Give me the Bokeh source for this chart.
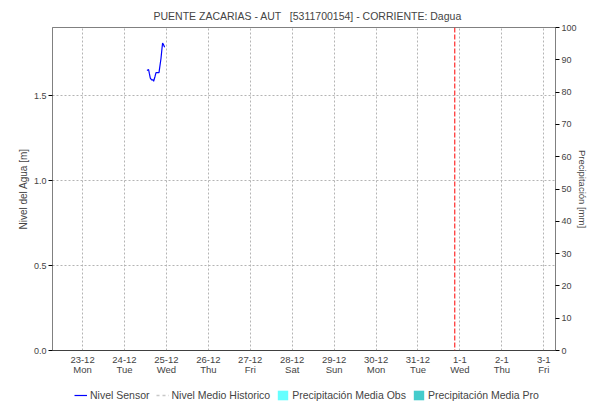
import pandas as pd
from bokeh.plotting import figure
from bokeh.layouts import column
from bokeh.models import (Range1d, LinearAxis, FixedTicker, Span, Legend, LegendItem,
                          Grid, PrintfTickFormatter)
from bokeh.embed import file_html
from bokeh.resources import INLINE

NB = "\u00a0"
title_text = "PUENTE ZACARIAS - AUT " + NB + " [5311700154] - CORRIENTE: Dagua"

sensor_times = ["2024-12-24 12:53", "2024-12-24 13:48", "2024-12-24 14:12", "2024-12-24 14:47",
                "2024-12-24 15:31", "2024-12-24 16:19", "2024-12-24 16:41", "2024-12-24 17:29",
                "2024-12-24 18:03", "2024-12-24 19:46", "2024-12-24 20:07", "2024-12-24 20:55",
                "2024-12-24 21:29", "2024-12-24 21:49", "2024-12-24 22:23", "2024-12-24 22:58"]
sensor_levels = [1.647, 1.653, 1.631, 1.602, 1.592, 1.592, 1.584, 1.612,
                 1.635, 1.635, 1.661, 1.719, 1.778, 1.808, 1.798, 1.784]

tick_dates = ["2024-12-23", "2024-12-24", "2024-12-25", "2024-12-26", "2024-12-27", "2024-12-28",
              "2024-12-29", "2024-12-30", "2024-12-31", "2025-01-01", "2025-01-02", "2025-01-03"]
tick_days = ["Mon", "Tue", "Wed", "Thu", "Fri", "Sat", "Sun", "Mon", "Tue", "Wed", "Thu", "Fri"]

x_start = "2024-12-22 06:48"
x_end = "2025-01-03 06:43"
now_time = "2024-12-31 21:04"

level_ticks = [0.0, 0.5, 1.0, 1.5]
level_max = 1.9
precip_ticks = [0, 10, 20, 30, 40, 50, 60, 70, 80, 90, 100]
precip_max = 100

legend_labels = ["Nivel Sensor", "Nivel Medio Historico", "Precipitación Media Obs",
                 "Precipitación Media Pro"]

FONT = "Liberation Sans"
NAN = float("nan")


def ms(s):
    return int(pd.Timestamp(s).value // 10**6)


tick_ms = [ms(d) for d in tick_dates]
overrides = {}
for d, dn in zip(tick_dates, tick_days):
    ts = pd.Timestamp(d)
    overrides[ms(d)] = f"{ts.day}-{ts.month}\n{dn}"

p = figure(width=593, height=383, x_range=Range1d(ms(x_start), ms(x_end)),
           y_range=Range1d(0, level_max), x_axis_type=None, y_axis_type=None,
           output_backend="svg", toolbar_location=None,
           min_border_left=52, min_border_right=38, min_border_top=27, min_border_bottom=33)
p.extra_y_ranges = {"precip": Range1d(0, precip_max)}
p.outline_line_color = "#808080"
p.background_fill_color = "white"
p.border_fill_color = "white"

p.title.text = title_text
p.title.align = "left"
p.title.offset = 101
p.title.text_font = FONT
p.title.text_font_size = "10.5px"
p.title.text_font_style = "normal"
p.title.standoff = 12

# x axis
xaxis = LinearAxis(ticker=FixedTicker(ticks=tick_ms), major_label_overrides=overrides)
xaxis.axis_line_color = "black"
xaxis.axis_line_dash = "1 1"
xaxis.major_tick_line_color = None
xaxis.minor_tick_line_color = None
xaxis.major_label_standoff = -3
xaxis.major_label_text_font = FONT
xaxis.major_label_text_font_size = "9.5px"
xaxis.major_label_text_line_height = 0.92
p.add_layout(xaxis, "below")

# left axis
yaxis = LinearAxis(ticker=FixedTicker(ticks=level_ticks), formatter=PrintfTickFormatter(format="%.1f"),
                   axis_label="Nivel del Agua [m]")
yaxis.axis_line_color = "#808080"
yaxis.major_tick_line_color = "black"
yaxis.major_tick_in = 0
yaxis.major_tick_out = 4
yaxis.minor_tick_line_color = None
yaxis.major_label_standoff = 2
yaxis.major_label_text_font = FONT
yaxis.major_label_text_font_size = "9px"
yaxis.axis_label_text_font = FONT
yaxis.axis_label_text_font_size = "10px"
yaxis.axis_label_text_font_style = "normal"
yaxis.axis_label_standoff = 2
p.add_layout(yaxis, "left")

# right axis
raxis = LinearAxis(y_range_name="precip", ticker=FixedTicker(ticks=precip_ticks),
                   axis_label="Precipitación [mm]")
raxis.axis_line_color = "#808080"
raxis.major_tick_line_color = "black"
raxis.major_tick_in = 0
raxis.major_tick_out = 4
raxis.minor_tick_line_color = None
raxis.major_label_standoff = 2
raxis.major_label_text_font = FONT
raxis.major_label_text_font_size = "9px"
raxis.axis_label_text_font = FONT
raxis.axis_label_text_font_size = "9.5px"
raxis.axis_label_text_font_style = "normal"
raxis.axis_label_text_line_height = 1.0
raxis.axis_label_standoff = -3
p.add_layout(raxis, "right")

p.add_layout(Grid(dimension=0, ticker=xaxis.ticker, grid_line_color="#b4b4b4", grid_line_dash="2 2"))
p.add_layout(Grid(dimension=1, ticker=yaxis.ticker, grid_line_color="#b4b4b4", grid_line_dash="2 2"))

p.line(x=[ms(t) for t in sensor_times], y=sensor_levels, line_color="blue", line_width=1.2)

p.add_layout(Span(location=ms(now_time), dimension="height", line_color="red",
                  line_dash="5 2", line_width=1))

# legend strip
lf = figure(width=593, height=18, x_range=Range1d(0, 1), y_range=Range1d(0, 1),
            x_axis_type=None, y_axis_type=None, output_backend="svg", toolbar_location=None,
            min_border=0, outline_line_color=None)
lf.grid.visible = False
r1 = lf.line(x=[NAN], y=[NAN], line_color="blue", line_width=1.2)
r2 = lf.line(x=[NAN], y=[NAN], line_color="#c8c8c8", line_dash="3 3", line_width=1.5)
r3 = lf.vbar(x=[NAN], top=[NAN], width=1, fill_color="#66ffff", line_color=None)
r4 = lf.vbar(x=[NAN], top=[NAN], width=1, fill_color="#44cccc", line_color=None)
legend = Legend(items=[LegendItem(label=lab, renderers=[r]) for lab, r in zip(legend_labels, [r1, r2, r3, r4])],
                orientation="horizontal", location=(22, 0),
                border_line_color=None, background_fill_alpha=0, padding=0, margin=0,
                spacing=6, glyph_width=13, glyph_height=12, label_standoff=3,
                label_text_font=FONT, label_text_font_size="10.5px", label_height=12)
lf.add_layout(legend)

open("out.html", "w").write(file_html(column(p, lf), INLINE))
